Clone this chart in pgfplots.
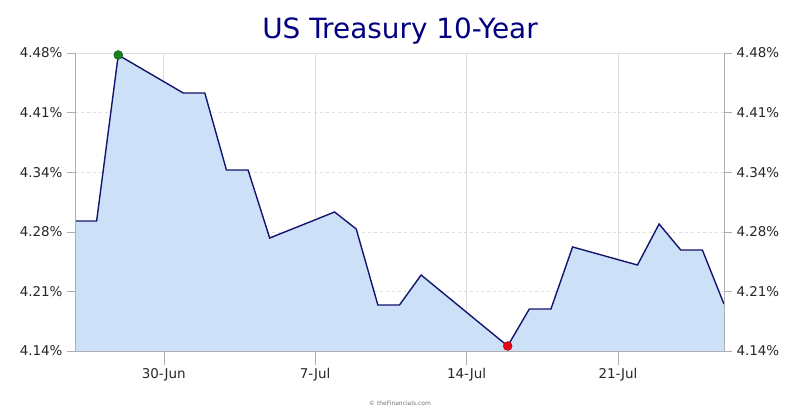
\documentclass[border=0pt]{standalone}
\usepackage{pgfplots}
\pgfplotsset{compat=1.18}
\usepackage{pgfplotstable}
\usepackage{fontspec}
\setmainfont{DejaVu Sans}
\definecolor{titleblue}{RGB}{0,0,128}
\definecolor{linec}{RGB}{20,20,110}
\definecolor{areafill}{RGB}{204,224,247}
\definecolor{gridc}{RGB}{222,222,222}
\definecolor{axc}{RGB}{175,175,175}
\definecolor{maxc}{RGB}{20,130,30}
\definecolor{minc}{RGB}{225,10,20}

\pgfplotstableread{
x y
-4 4.2883
-3 4.2883
-2 4.4777
1 4.4344
2 4.4344
3 4.3465
4 4.3465
5 4.2689
8 4.2986
9 4.2792
10 4.1925
11 4.1925
12 4.2267
16 4.1457
17 4.1879
18 4.1879
19 4.2587
22 4.2381
23 4.2849
24 4.2552
25 4.2552
26 4.1936
}\datatable

\pgfplotsset{
  common/.style={
    at={(75bp,69bp)}, anchor=south west,
    width=649bp, height=298bp, scale only axis,
    xmin=-4, xmax=26, ymin=4.14, ymax=4.48,
    ytick={4.14,4.208,4.276,4.344,4.412,4.48},
    yticklabels={4.14\%,4.21\%,4.28\%,4.34\%,4.41\%,4.48\%},
    tick align=outside,
    tick label style={font=\fontsize{13.5}{15}\selectfont, text=black!85},
    axis line style={axc},
  }
}

\begin{document}
\begin{tikzpicture}
\useasboundingbox (0,0) rectangle (800bp,420bp);
\node[anchor=base, text=titleblue, font=\fontsize{28}{31}\selectfont] at (400bp,381bp) {US Treasury 10-Year};

\begin{axis}[common,
  axis x line*=bottom,
  xtick={0.1,7.1,14.1,21.1},
  xticklabels={30-Jun,7-Jul,14-Jul,21-Jul},
  yticklabels={},
  xtick pos=bottom, ytick pos=left,
  major tick length=14bp,
  xtick style={axc},
  ytick style={draw=none},
  xmajorgrids, ymajorgrids,
  x grid style={gridc, line width=0.8pt},
  y grid style={gridc, dashed, line width=0.6pt},
  xticklabel style={yshift=0bp},
]
\draw[gridc, line width=0.9pt] (axis cs:-4,4.48) -- (axis cs:26,4.48);
\addplot[draw=none, fill=areafill] table[x=x,y=y] {\datatable} \closedcycle;
\addplot[linec, line width=1.4pt, mark=none] table[x=x,y=y] {\datatable};
\addplot[only marks, mark=*, mark size=4.5bp, mark options={fill=maxc, draw=maxc!70!black}] coordinates {(-2,4.4777)};
\addplot[only marks, mark=*, mark size=4.5bp, mark options={fill=minc, draw=minc!80!black}] coordinates {(16,4.1457)};
\end{axis}

\begin{axis}[common,
  axis x line=none, axis y line*=left,
  major tick length=8bp,
  ytick style={axc},
  yticklabel style={xshift=-1bp},
]
\end{axis}

\begin{axis}[common,
  axis x line=none, axis y line*=right,
  yticklabel pos=right,
  major tick length=8bp,
  ytick style={axc},
  yticklabel style={xshift=1bp},
]
\end{axis}

\node[text=black!55, font=\fontsize{6}{7}\selectfont] at (400bp,17bp) {\textcopyright{} theFinancials.com};
\end{tikzpicture}
\end{document}
